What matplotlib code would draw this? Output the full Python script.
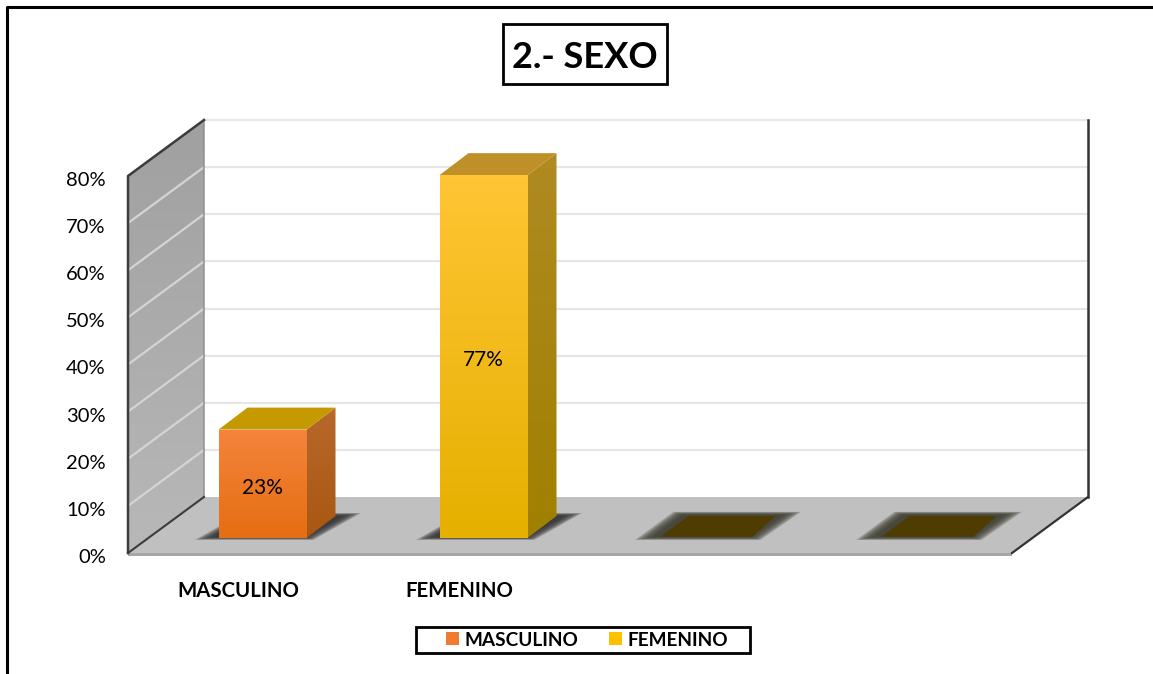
import numpy as np
import matplotlib
matplotlib.use('Agg')
import matplotlib.pyplot as plt
from matplotlib.colors import LinearSegmentedColormap
from matplotlib.lines import Line2D
from matplotlib.patches import Patch, Polygon, Rectangle
from matplotlib.transforms import ScaledTranslation

plt.rcParams['font.family'] = ['Lato', 'DejaVu Sans']

categories = ['MASCULINO', 'FEMENINO', '', '']
values = [23, 77, 0, 0]
yticks = [0, 10, 20, 30, 40, 50, 60, 70, 80]
legend_labels = ['MASCULINO', 'FEMENINO']

W, H = 1153, 674
fig = plt.figure(figsize=(W / 100, H / 100), dpi=100)
# axes = the front plane of the 3D box
ax = fig.add_axes([128 / W, 1 - 553 / H, 884 / W, 377 / H])
ax.patch.set_visible(False)
for s in ax.spines.values():
    s.set_visible(False)

px_x = 884 / 4      # pixels per category
px_y = 377 / 80     # pixels per percent
DX, DY = 76 / px_x, 56 / px_y           # depth of the box
X0, X1, YTOP = -0.5, 3.5, 80
BAR_DX, BAR_DY = 29 / px_x, 22 / px_y   # depth of a bar
LIFT_X, LIFT_Y = 24 / px_x, 15 / px_y   # bar offset from the front edge
HALF = 44 / px_x


def gradient_poly(verts, top, bottom, zorder):
    # polygon filled with a vertical gradient
    verts = np.array(verts)
    cmap = LinearSegmentedColormap.from_list('g', [top, bottom])
    im = ax.imshow(np.linspace(0, 1, 64).reshape(-1, 1), cmap=cmap, aspect='auto', origin='upper',
                   extent=[verts[:, 0].min(), verts[:, 0].max(), verts[:, 1].min(), verts[:, 1].max()],
                   zorder=zorder, interpolation='bilinear')
    clip = Polygon(verts, closed=True, transform=ax.transData)
    im.set_clip_path(clip)
    im.set_clip_box(fig.bbox)


def soft_poly(verts, color, zorder):
    # blurred shadow: stacked translucent copies
    verts = np.array(verts)
    c = verts.mean(axis=0)
    for sc in [1.16, 1.12, 1.08, 1.04, 1.0, 0.96, 0.92]:
        ax.add_patch(Polygon(c + (verts - c) * sc, closed=True, facecolor=color, edgecolor='none',
                             alpha=0.28, zorder=zorder, clip_on=False))


# back wall grid
for v in yticks[1:]:
    ax.plot([X0 + DX, X1 + DX], [v + DY, v + DY], color='#e6e6e6', lw=1.6, zorder=1, clip_on=False)
ax.plot([X1 + DX, X1 + DX], [DY, YTOP + DY], color='#333333', lw=1.8, zorder=2, clip_on=False)

# left wall
gradient_poly([(X0, 0), (X0 + DX, DY), (X0 + DX, YTOP + DY), (X0, YTOP)], '#a0a0a0', '#b8b8b8', 2)
for v in yticks[1:-1]:
    ax.plot([X0, X0 + DX], [v, v + DY], color='#d4d4d4', lw=1.6, zorder=3, clip_on=False)
ax.plot([X0, X0, X0 + DX, X0 + DX], [0, YTOP, YTOP + DY, DY], color='#8a8a8a', lw=1, zorder=3, clip_on=False)
ax.plot([X0, X0, X0 + DX], [0, YTOP, YTOP + DY], color='#3c3c3c', lw=1.8, zorder=4, clip_on=False)
ax.plot([X0, X0 + DX], [0, DY], color='#3c3c3c', lw=1.5, zorder=4, clip_on=False)

# floor
ax.add_patch(Polygon([(X0, 0), (X1, 0), (X1 + DX, DY), (X0 + DX, DY)], closed=True,
                     facecolor='#c0c0c0', edgecolor='none', zorder=2, clip_on=False))
ax.add_patch(Polygon([(X0, 0), (X1, 0), (X1, -0.6), (X0, -0.6)], closed=True,
                     facecolor='#a6a6a8', edgecolor='none', zorder=2, clip_on=False))
ax.plot([X1, X1 + DX], [0, DY], color='#333333', lw=1.6, zorder=3, clip_on=False)

# bars
styles = [
    {'front': ('#f5843c', '#e56e12'), 'side': ('#b8682a', '#a85812'), 'top': '#c49a00', 'shadow': '#303030'},
    {'front': ('#ffc534', '#e6b000'), 'side': ('#b08a22', '#a08000'), 'top': '#bf9028', 'shadow': '#303030'},
    {'front': None, 'side': None, 'top': '#4e3c00', 'shadow': '#3c3c30'},
    {'front': None, 'side': None, 'top': '#4e3c00', 'shadow': '#3c3c30'},
]
for i, (v, st) in enumerate(zip(values, styles)):
    xl = i + LIFT_X - HALF
    xr = i + LIFT_X + HALF
    yb = LIFT_Y
    yt = yb + v
    if v > 0:
        # shadow on the floor
        soft_poly([(xl - 12 / px_x, yb), (xr + 2 / px_x, yb), (xr + BAR_DX + 14 / px_x, yb + BAR_DY * 1.05), (xl + BAR_DX, yb + BAR_DY * 1.05)],
                  st['shadow'], 5)
        gradient_poly([(xr, yb), (xr + BAR_DX, yb + BAR_DY), (xr + BAR_DX, yt + BAR_DY), (xr, yt)],
                      st['side'][0], st['side'][1], 7)
        ax.add_patch(Polygon([(xl, yt), (xr, yt), (xr + BAR_DX, yt + BAR_DY), (xl + BAR_DX, yt + BAR_DY)],
                             closed=True, facecolor=st['top'], edgecolor='none', zorder=7, clip_on=False))
        gradient_poly([(xl, yb), (xr, yb), (xr, yt), (xl, yt)], st['front'][0], st['front'][1], 8)
        ax.text(i + LIFT_X, yb + v / 2 - 0.8, f'{v}%', ha='center', va='center', fontsize=15, color='black', zorder=9)
    else:
        soft_poly([(xl - 14 / px_x, yb), (xr + 6 / px_x, yb), (xr + BAR_DX + 12 / px_x, yb + BAR_DY * 1.1), (xl + BAR_DX - 10 / px_x, yb + BAR_DY * 1.1)],
                  st['shadow'], 5)
        ax.add_patch(Polygon([(xl, yb + 0.3), (xr + 4 / px_x, yb + 0.3), (xr + BAR_DX - 2 / px_x, yb + BAR_DY), (xl + BAR_DX - 1 / px_x, yb + BAR_DY)],
                             closed=True, facecolor=st['top'], edgecolor='none', zorder=6, clip_on=False))

ax.set_xlim(X0, X1)
ax.set_ylim(0, YTOP)
ax.set_yticks(yticks)
ax.set_yticklabels([f'{v}%' for v in yticks], fontsize=14.5)
ax.set_xticks(range(len(categories)))
ax.set_xticklabels(categories, fontsize=14.7, fontweight='bold')
ax.tick_params(axis='both', length=0)
ax.tick_params(axis='y', pad=16)
ax.tick_params(axis='x', pad=20)
# labels sit a little below their gridline in the original
down = ScaledTranslation(0, -3 / 100, fig.dpi_scale_trans)
for lab in ax.get_yticklabels():
    lab.set_transform(lab.get_transform() + down)

# legend
handles = [Patch(facecolor='#f07b2e', edgecolor='none'), Patch(facecolor='#ffc000', edgecolor='none')]
ax.legend(handles, legend_labels, ncol=2, loc='center', bbox_to_anchor=(587 / W, 1 - 640 / H),
          bbox_transform=fig.transFigure, prop={'size': 13.7, 'weight': 'bold'}, frameon=False,
          handlelength=0.68, handleheight=0.68, handletextpad=0.26, columnspacing=1.63,
          borderpad=0, borderaxespad=0)
fig.add_artist(Rectangle((416 / W, 1 - 653 / H), 334 / W, 26 / H, transform=fig.transFigure,
                         facecolor='none', edgecolor='black', lw=2))

# title and outer frame
fig.add_artist(Rectangle((503 / W, 1 - 84 / H), 164 / W, 60 / H, transform=fig.transFigure,
                         facecolor='white', edgecolor='black', lw=2))
fig.text(585 / W, 1 - 57 / H, '2.- SEXO', ha='center', va='center', fontsize=26, fontweight='bold')
fig.add_artist(Line2D([7 / W, 7 / W, 1], [0, 1 - 7 / H, 1 - 7 / H], color='black', lw=2.2))

fig.savefig('out.png', dpi=100)
plt.close(fig)
